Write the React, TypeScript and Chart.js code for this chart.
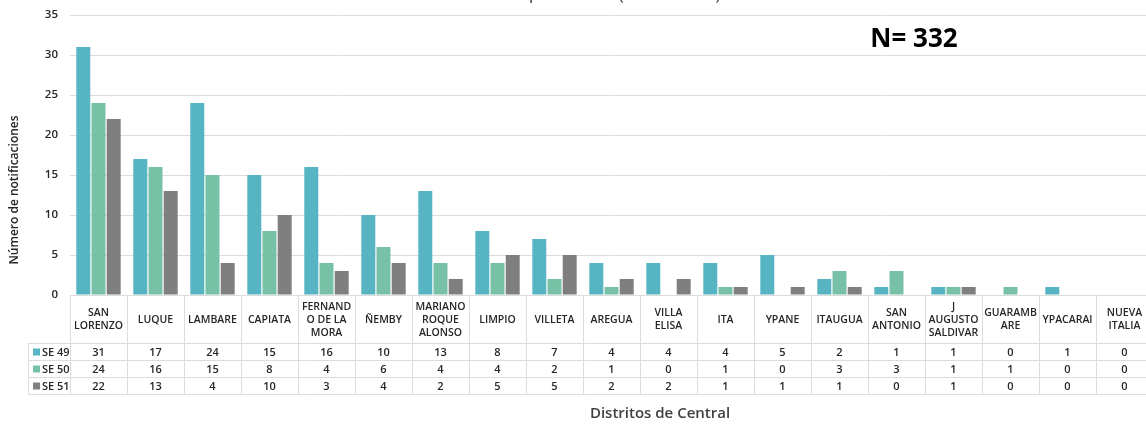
import React, { useEffect, useRef } from "react";
import { Chart, registerables } from "chart.js";

Chart.register(...registerables);

const categories: string[][] = [
  ["SAN", "LORENZO"], ["LUQUE"], ["LAMBARE"], ["CAPIATA"], ["FERNAND", "O DE LA", "MORA"],
  ["ÑEMBY"], ["MARIANO", "ROQUE", "ALONSO"], ["LIMPIO"], ["VILLETA"], ["AREGUA"],
  ["VILLA", "ELISA"], ["ITA"], ["YPANE"], ["ITAUGUA"], ["SAN", "ANTONIO"],
  ["J", "AUGUSTO", "SALDIVAR"], ["GUARAMB", "ARE"], ["YPACARAI"], ["NUEVA", "ITALIA"],
];
const seriesNames = ["SE 49", "SE 50", "SE 51"];
const se49 = [31, 17, 24, 15, 16, 10, 13, 8, 7, 4, 4, 4, 5, 2, 1, 1, 0, 1, 0];
const se50 = [24, 16, 15, 8, 4, 6, 4, 4, 2, 1, 0, 1, 0, 3, 3, 1, 1, 0, 0];
const se51 = [22, 13, 4, 10, 3, 4, 2, 5, 5, 2, 2, 1, 1, 1, 0, 1, 0, 0, 0];
const yTicks = [0, 5, 10, 15, 20, 25, 30, 35];
const titleText = "Distritos de Central por semana (SE 49 a SE 51). Año 2021";
const totalText = "N= 332";
const xTitle = "Distritos de Central";
const yTitle = "Número de notificaciones";

const colors = ["#56b4c3", "#77c2a7", "#7f7f7f"];
const FONT = "'Open Sans', 'Noto Sans', sans-serif";

const tablePlugin = {
  id: "tablePlugin",
  afterDraw(chart: any) {
    const ctx = chart.ctx as CanvasRenderingContext2D;
    const xs = chart.scales.x;
    const area = chart.chartArea;
    const n = categories.length;
    const colW = xs.getPixelForValue(1) - xs.getPixelForValue(0);
    const left = xs.getPixelForValue(0) - colW / 2;
    const right = left + colW * n;
    const top = Math.round(area.bottom);
    const headerH = 48;
    const rowH = 17;
    const legLeft = left - 42;
    const series = [se49, se50, se51];
    ctx.save();
    // title (clipped at top)
    ctx.fillStyle = "#595959";
    ctx.font = `600 15px ${FONT}`;
    ctx.textAlign = "center";
    ctx.textBaseline = "alphabetic";
    ctx.fillText(titleText, 590, 0);
    // N
    ctx.fillStyle = "#000000";
    ctx.font = `700 26px ${FONT}`;
    ctx.textBaseline = "middle";
    ctx.fillText(totalText, 914, 40);

    // grid lines of table
    ctx.strokeStyle = "#dcdcdc";
    ctx.lineWidth = 1;
    ctx.beginPath();
    ctx.moveTo(left, top + 0.5);
    ctx.lineTo(right, top + 0.5);
    for (let r = 0; r <= 3; r++) {
      const y = top + headerH + r * rowH + 0.5;
      ctx.moveTo(legLeft, y);
      ctx.lineTo(right, y);
    }
    for (let i = 0; i <= n; i++) {
      const x = Math.round(left + i * colW) + 0.5;
      ctx.moveTo(x, top);
      ctx.lineTo(x, top + headerH + 3 * rowH);
    }
    ctx.moveTo(legLeft + 0.5, top + headerH);
    ctx.lineTo(legLeft + 0.5, top + headerH + 3 * rowH);
    ctx.stroke();

    // header labels
    ctx.fillStyle = "#262626";
    ctx.font = `600 10.5px ${FONT}`;
    ctx.textAlign = "center";
    ctx.textBaseline = "middle";
    const lh = 13;
    categories.forEach((lines, i) => {
      const cx = xs.getPixelForValue(i);
      const cy = top + headerH / 2 + 1;
      lines.forEach((ln, k) => {
        ctx.fillText(ln, cx, cy + (k - (lines.length - 1) / 2) * lh);
      });
    });
    // rows
    ctx.font = `600 11px ${FONT}`;
    series.forEach((vals, r) => {
      const cy = top + headerH + r * rowH + rowH / 2 + 1;
      vals.forEach((v, i) => {
        ctx.textAlign = "center";
        ctx.fillText(String(v), xs.getPixelForValue(i), cy);
      });
      ctx.fillStyle = colors[r];
      ctx.fillRect(legLeft + 5, cy - 4, 7, 7);
      ctx.fillStyle = "#262626";
      ctx.textAlign = "left";
      ctx.fillText(seriesNames[r], legLeft + 14, cy);
    });

    // axis titles
    ctx.fillStyle = "#404040";
    ctx.font = `600 15px ${FONT}`;
    ctx.textAlign = "center";
    ctx.fillText(xTitle, 660, 414);
    ctx.save();
    ctx.translate(15, 190);
    ctx.rotate(-Math.PI / 2);
    ctx.font = `600 12px ${FONT}`;
    ctx.fillStyle = "#262626";
    ctx.fillText(yTitle, 0, 0);
    ctx.restore();
    ctx.restore();
  },
};

export default function App() {
  const ref = useRef<HTMLCanvasElement>(null);
  useEffect(() => {
    if (!ref.current) return;
    const chart = new Chart(ref.current, {
      type: "bar",
      data: {
        labels: categories.map((c) => c.join(" ")),
        datasets: [
          { label: seriesNames[0], data: se49, backgroundColor: colors[0] },
          { label: seriesNames[1], data: se50, backgroundColor: colors[1] },
          { label: seriesNames[2], data: se51, backgroundColor: colors[2] },
        ],
      },
      options: {
        animation: false,
        responsive: true,
        maintainAspectRatio: false,
        datasets: { bar: { categoryPercentage: 0.8, barPercentage: 0.92 } },
        layout: { padding: { left: 0, top: 15, right: 7, bottom: 131 } },
        plugins: { legend: { display: false }, tooltip: { enabled: false }, title: { display: false } },
        scales: {
          x: { display: false },
          y: {
            min: 0,
            max: 35,
            afterBuildTicks: (scale: any) => {
              scale.ticks = yTicks.map((v) => ({ value: v }));
            },
            afterFit: (scale: any) => {
              scale.width = 70;
              scale.paddingTop = 0;
              scale.paddingBottom = 0;
            },
            border: { display: false },
            grid: { color: "#dcdcdc", drawTicks: false, lineWidth: 1 },
            ticks: {
              padding: 12,
              color: "#262626",
              font: { family: FONT, size: 11.5, weight: 600 as any },
            },
          },
        },
      },
      plugins: [tablePlugin],
    });
    return () => chart.destroy();
  }, []);
  return (
    <div style={{ position: "fixed", left: 0, top: 0, width: 1146, height: 426, overflow: "hidden", background: "#fff" }}>
      <div style={{ position: "relative", width: 1160, height: 426 }}>
        <canvas ref={ref} />
      </div>
    </div>
  );
}
